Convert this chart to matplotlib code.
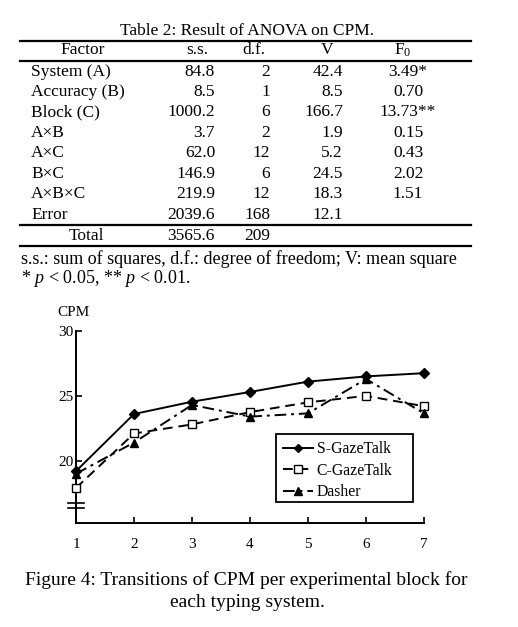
import matplotlib
matplotlib.use('Agg')
import matplotlib.pyplot as plt
from matplotlib.lines import Line2D
from matplotlib.patches import Rectangle

plt.rcParams['font.family'] = ['Liberation Serif', 'DejaVu Serif']
plt.rcParams['mathtext.fontset'] = 'custom'
plt.rcParams['mathtext.rm'] = 'Liberation Serif'
plt.rcParams['mathtext.it'] = 'Liberation Serif:italic'

# table data
factors = ['System (A)', 'Accuracy (B)', 'Block (C)', 'A×B', 'A×C', 'B×C', 'A×B×C', 'Error']
ss = ['84.8', '8.5', '1000.2', '3.7', '62.0', '146.9', '219.9', '2039.6']
df = ['2', '1', '6', '2', '12', '6', '12', '168']
ms = ['42.4', '8.5', '166.7', '1.9', '5.2', '24.5', '18.3', '12.1']
f0 = ['3.49*', '0.70', '13.73**', '0.15', '0.43', '2.02', '1.51', '']
total = ['Total', '3565.6', '209']

# chart data
blocks = [1, 2, 3, 4, 5, 6, 7]
s_gazetalk = [19.2, 23.6, 24.55, 25.3, 26.1, 26.5, 26.75]
c_gazetalk = [17.9, 22.1, 22.8, 23.75, 24.5, 25.0, 24.2]
dasher = [19.0, 21.4, 24.3, 23.4, 23.65, 26.3, 23.65]

W, H = 518, 627
fig = plt.figure(figsize=(W / 100, H / 100), dpi=100)


def fx(x):
    return x / W


def fy(y):
    return 1 - y / H


def hline(y, x0=20, x1=471, lw=1.6):
    fig.add_artist(Line2D([fx(x0), fx(x1)], [fy(y), fy(y)], color='black', lw=lw,
                          transform=fig.transFigure))


fs = 12.5
fig.text(fx(247), fy(31), 'Table 2: Result of ANOVA on CPM.', ha='center', va='center', fontsize=fs)
hline(40.5)
hy = 50.5
fig.text(fx(83), fy(hy), 'Factor', ha='center', va='center', fontsize=fs)
fig.text(fx(197), fy(hy), 's.s.', ha='center', va='center', fontsize=fs)
fig.text(fx(254), fy(hy), 'd.f.', ha='center', va='center', fontsize=fs)
fig.text(fx(327), fy(hy), 'V', ha='center', va='center', fontsize=fs)
fig.text(fx(403), fy(hy), r'F$_0$', ha='center', va='center', fontsize=fs)
hline(61)

row_y0, row_dy = 71.5, 20.45
for i in range(len(factors)):
    y = fy(row_y0 + i * row_dy)
    fig.text(fx(31), y, factors[i], ha='left', va='center', fontsize=fs)
    fig.text(fx(215), y, ss[i], ha='right', va='center', fontsize=fs)
    fig.text(fx(270), y, df[i], ha='right', va='center', fontsize=fs)
    fig.text(fx(343), y, ms[i], ha='right', va='center', fontsize=fs)
    fig.text(fx(408), y, f0[i], ha='center', va='center', fontsize=fs)

hline(225)
fig.text(fx(86), fy(235.5), total[0], ha='center', va='center', fontsize=fs)
fig.text(fx(215), fy(235.5), total[1], ha='right', va='center', fontsize=fs)
fig.text(fx(270), fy(235.5), total[2], ha='right', va='center', fontsize=fs)
hline(246)

fig.text(fx(21), fy(259), 's.s.: sum of squares, d.f.: degree of freedom; V: mean square',
         ha='left', va='center', fontsize=13)
fig.text(fx(21), fy(278.5), r'* $p$ < 0.05, ** $p$ < 0.01.', ha='left', va='center', fontsize=13)

# chart
ax = fig.add_axes([fx(76), fy(523), (424 - 76) / W, (523 - 331) / H])
ax.plot(blocks, s_gazetalk, '-', color='black', lw=1.4, marker='D', ms=5,
        mfc='black', label='S-GazeTalk', clip_on=False, zorder=4)
ax.plot(blocks, c_gazetalk, '--', color='black', lw=1.4, marker='s', ms=6,
        mfc='white', label='C-GazeTalk', clip_on=False, zorder=3, dashes=(5, 3))
ax.plot(blocks, dasher, '-.', color='black', lw=1.4, marker='^', ms=6,
        mfc='black', label='Dasher', clip_on=False, zorder=3, dashes=(6, 2.5, 1.5, 2.5))

ax.set_xlim(1, 7)
ax.set_ylim(15.2, 30)
ax.set_xticks(blocks)
ax.set_yticks([20, 25, 30])
ax.spines['top'].set_visible(False)
ax.spines['right'].set_visible(False)
ax.spines['left'].set_linewidth(1.4)
ax.spines['bottom'].set_linewidth(1.4)
ax.tick_params(direction='in', length=4, width=1.2, labelsize=11)
ax.tick_params(axis='x', pad=10.5)
ax.tick_params(axis='y', pad=2)
ax.patch.set_visible(False)

# axis break marks
for yb in (503, 507.5):
    fig.add_artist(Line2D([fx(68), fx(84)], [fy(yb), fy(yb)], color='black', lw=1.2,
                          transform=fig.transFigure))
fig.text(fx(73), fy(313), 'CPM', ha='center', va='center', fontsize=11)

# legend with fixed frame
fig.add_artist(Rectangle((fx(276), fy(502)), fx(413) - fx(276), fy(434) - fy(502),
                         transform=fig.transFigure, fill=False, edgecolor='black', lw=1.3))
leg = ax.legend(loc='upper left', bbox_to_anchor=(fx(276), fy(434)),
                bbox_transform=fig.transFigure, fontsize=11.3, frameon=False,
                handlelength=1.9, borderpad=0.45, labelspacing=0.35, handletextpad=0.25,
                borderaxespad=0, markerscale=0.85)

fig.text(fx(246), fy(580), 'Figure 4: Transitions of CPM per experimental block for',
         ha='center', va='center', fontsize=14)
fig.text(fx(247), fy(602.5), 'each typing system.', ha='center', va='center', fontsize=14)

fig.savefig('out.png', dpi=100)
